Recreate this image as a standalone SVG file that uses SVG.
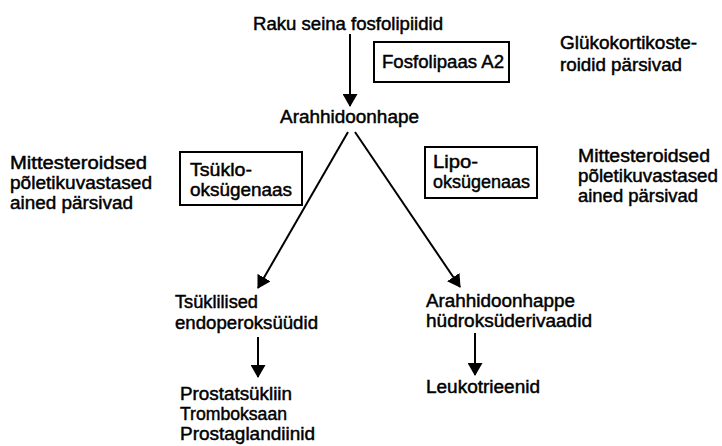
<svg xmlns="http://www.w3.org/2000/svg" width="722" height="446" viewBox="0 0 722 446">
  <style>
    text { font-family: "Liberation Sans", Arial, sans-serif; font-size: 17.5px; fill: #000; stroke: #000; stroke-width: 0.45; }
    .box { fill: #fff; stroke: #000; stroke-width: 2; }
    .edge { stroke: #000; stroke-width: 2; fill: none; marker-end: url(#arrow); }
  </style>
  <defs>
    <marker id="arrow" markerUnits="userSpaceOnUse" viewBox="0 0 13 15" refX="12" refY="7.5" markerWidth="13" markerHeight="15" orient="auto">
      <path d="M0,0 L13,7.5 L0,15 Z" fill="#000"/>
    </marker>
  </defs>
  <rect width="722" height="446" fill="#fff"/>

  <g id="connectors">
    <line class="edge" x1="350" y1="34" x2="350" y2="106"/>
    <line class="edge" x1="348" y1="132" x2="258" y2="288"/>
    <line class="edge" x1="355" y1="132" x2="460" y2="287"/>
    <line class="edge" x1="258" y1="337" x2="258" y2="377"/>
    <line class="edge" x1="475" y1="333" x2="475" y2="375"/>
  </g>

  <g id="phospholipids">
    <text x="253" y="30" textLength="190" lengthAdjust="spacingAndGlyphs">Raku seina fosfolipiidid</text>
  </g>

  <g id="phospholipase">
    <rect class="box" x="374" y="42" width="135" height="40"/>
    <text x="382" y="68" textLength="122" lengthAdjust="spacingAndGlyphs">Fosfolipaas A2</text>
  </g>

  <g id="glucocorticoids">
    <text><tspan x="560" y="49" textLength="137" lengthAdjust="spacingAndGlyphs">Glükokortikoste-</tspan><tspan x="560" y="71" textLength="122" lengthAdjust="spacingAndGlyphs">roidid pärsivad</tspan></text>
  </g>

  <g id="arachidonic-acid">
    <text x="280" y="123" textLength="139" lengthAdjust="spacingAndGlyphs">Arahhidoonhape</text>
  </g>

  <g id="nsaid-left">
    <text><tspan x="10" y="169" textLength="137" lengthAdjust="spacingAndGlyphs">Mittesteroidsed</tspan><tspan x="10" y="189" textLength="142" lengthAdjust="spacingAndGlyphs">põletikuvastased</tspan><tspan x="10" y="209" textLength="123" lengthAdjust="spacingAndGlyphs">ained pärsivad</tspan></text>
  </g>

  <g id="cyclooxygenase">
    <rect class="box" x="180" y="152" width="122" height="53"/>
    <text><tspan x="190" y="176" textLength="62" lengthAdjust="spacingAndGlyphs">Tsüklo-</tspan><tspan x="190" y="196" textLength="102" lengthAdjust="spacingAndGlyphs">oksügenaas</tspan></text>
  </g>

  <g id="lipoxygenase">
    <rect class="box" x="425" y="147" width="112" height="51"/>
    <text><tspan x="433" y="168" textLength="45" lengthAdjust="spacingAndGlyphs">Lipo-</tspan><tspan x="433" y="188" textLength="97" lengthAdjust="spacingAndGlyphs">oksügenaas</tspan></text>
  </g>

  <g id="nsaid-right">
    <text><tspan x="578" y="162" textLength="132" lengthAdjust="spacingAndGlyphs">Mittesteroidsed</tspan><tspan x="578" y="182" textLength="140" lengthAdjust="spacingAndGlyphs">põletikuvastased</tspan><tspan x="578" y="202" textLength="120" lengthAdjust="spacingAndGlyphs">ained pärsivad</tspan></text>
  </g>

  <g id="endoperoxides">
    <text><tspan x="175" y="308" textLength="83" lengthAdjust="spacingAndGlyphs">Tsüklilised</tspan><tspan x="175" y="329" textLength="143" lengthAdjust="spacingAndGlyphs">endoperoksüüdid</tspan></text>
  </g>

  <g id="hydroxy-derivatives">
    <text><tspan x="426" y="307" textLength="149" lengthAdjust="spacingAndGlyphs">Arahhidoonhappe</tspan><tspan x="426" y="327" textLength="166" lengthAdjust="spacingAndGlyphs">hüdroksüderivaadid</tspan></text>
  </g>

  <g id="prostanoids">
    <text><tspan x="180" y="400" textLength="112" lengthAdjust="spacingAndGlyphs">Prostatsükliin</tspan><tspan x="180" y="420" textLength="107" lengthAdjust="spacingAndGlyphs">Tromboksaan</tspan><tspan x="180" y="440" textLength="135" lengthAdjust="spacingAndGlyphs">Prostaglandiinid</tspan></text>
  </g>

  <g id="leukotrienes">
    <text x="426" y="393" textLength="114" lengthAdjust="spacingAndGlyphs">Leukotrieenid</text>
  </g>
</svg>
